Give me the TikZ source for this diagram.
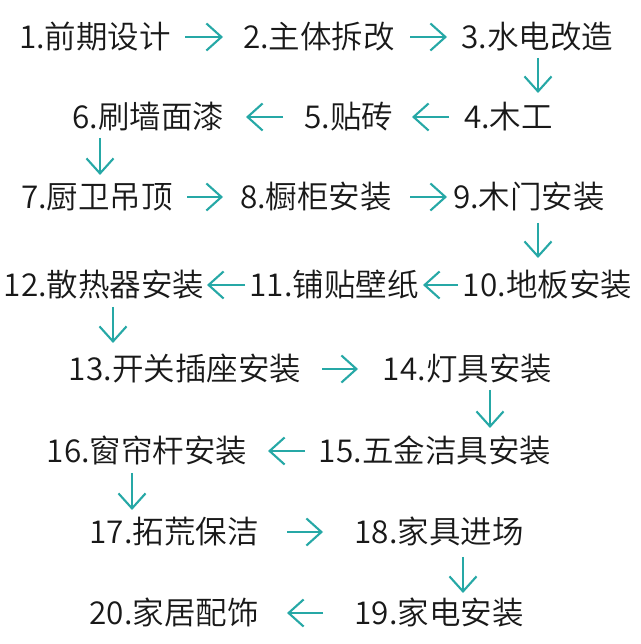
\documentclass[tikz,border=0pt]{standalone}
\usepackage{fontspec}
\setmainfont{Noto Sans CJK SC DemiLight}
\usetikzlibrary{arrows.meta,calc}
\definecolor{arrteal}{RGB}{38,168,166}
\definecolor{txt}{RGB}{25,25,25}
\begin{document}
\begin{tikzpicture}[x=1pt,y=1pt,
  lab/.style={inner sep=0pt, outer sep=0pt, text=txt,
    font=\fontsize{31.5}{31.5}\selectfont, text height=27.7pt, text depth=3.8pt},
  arr/.style={draw=arrteal, line width=2.1pt,
    -{Straight Barb[length=15pt,width=27pt,line width=2.1pt]}}]
\fill[white] (0,0) rectangle (640,644);
\useasboundingbox (0,0) rectangle (640,644);
% row 1
\node[lab] (n1) at (95,607) {1.前期设计};
\node[lab] (n2) at (319,607) {2.主体拆改};
\node[lab] (n3) at (537.5,607) {3.水电改造};
% row 2
\node[lab] (n6) at (148.5,527) {6.刷墙面漆};
\node[lab] (n5) at (349,527) {5.贴砖};
\node[lab] (n4) at (508.5,527) {4.木工};
% row 3
\node[lab] (n7) at (97,447) {7.厨卫吊顶};
\node[lab] (n8) at (316,447) {8.橱柜安装};
\node[lab] (n9) at (529,447) {9.木门安装};
% row 4
\node[lab] (n12) at (104,359) {12.散热器安装};
\node[lab] (n11) at (334,359) {11.铺贴壁纸};
\node[lab] (n10) at (547.5,359) {10.地板安装};
% row 5
\node[lab] (n13) at (185,275) {13.开关插座安装};
\node[lab] (n14) at (467.5,275) {14.灯具安装};
% row 6
\node[lab] (n16) at (147,193) {16.窗帘杆安装};
\node[lab] (n15) at (435,193) {15.五金洁具安装};
% row 7
\node[lab] (n17) at (174,112) {17.拓荒保洁};
\node[lab] (n18) at (439,112) {18.家具进场};
% row 8
\node[lab] (n20) at (174,31) {20.家居配饰};
\node[lab] (n19) at (439,31) {19.家电安装};
% horizontal arrows
\draw[arr, shorten <=90pt, shorten >=96pt] (n1.center) -- (n2.center);
\draw[arr, shorten <=91pt, shorten >=90.5pt] (n2.center) -- (n3.center);
\draw[arr, shorten <=59.5pt, shorten >=63pt] (n4.center) -- (n5.center);
\draw[arr, shorten <=66pt, shorten >=97.5pt] (n5.center) -- (n6.center);
\draw[arr, shorten <=90pt, shorten >=93pt] (n7.center) -- (n8.center);
\draw[arr, shorten <=94pt, shorten >=82pt] (n8.center) -- (n9.center);
\draw[arr, shorten <=89.5pt, shorten >=89pt] (n10.center) -- (n11.center);
\draw[arr, shorten <=89pt, shorten >=103pt] (n11.center) -- (n12.center);
\draw[arr, shorten <=137pt, shorten >=109.5pt] (n13.center) -- (n14.center);
\draw[arr, shorten <=130pt, shorten >=121pt] (n15.center) -- (n16.center);
\draw[arr, shorten <=113pt, shorten >=116pt] (n17.center) -- (n18.center);
\draw[arr, shorten <=116pt, shorten >=113pt] (n19.center) -- (n20.center);
% vertical arrows
\draw[arr, shorten <=21pt, shorten >=24pt] ($(n3.center)+(0.5,0)$) -- ($(n3.center |- n4.center)+(0.5,0)$);
\draw[arr, shorten <=21pt, shorten >=22pt] ($(n6.center)+(-48.5,0)$) -- ($(n6.center |- n7.center)+(-48.5,0)$);
\draw[arr, shorten <=26pt, shorten >=27pt] ($(n9.center)+(9,0)$) -- ($(n9.center |- n10.center)+(9,0)$);
\draw[arr, shorten <=22pt, shorten >=26pt] ($(n12.center)+(9,0)$) -- ($(n12.center |- n13.center)+(9,0)$);
\draw[arr, shorten <=21pt, shorten >=23pt] ($(n14.center)+(22.5,0)$) -- ($(n14.center |- n15.center)+(22.5,0)$);
\draw[arr, shorten <=22pt, shorten >=22pt] ($(n16.center)+(-15,0)$) -- ($(n16.center |- n17.center)+(-15,0)$);
\draw[arr, shorten <=25pt, shorten >=20pt] ($(n18.center)+(24,0)$) -- ($(n18.center |- n19.center)+(24,0)$);
\end{tikzpicture}
\end{document}
